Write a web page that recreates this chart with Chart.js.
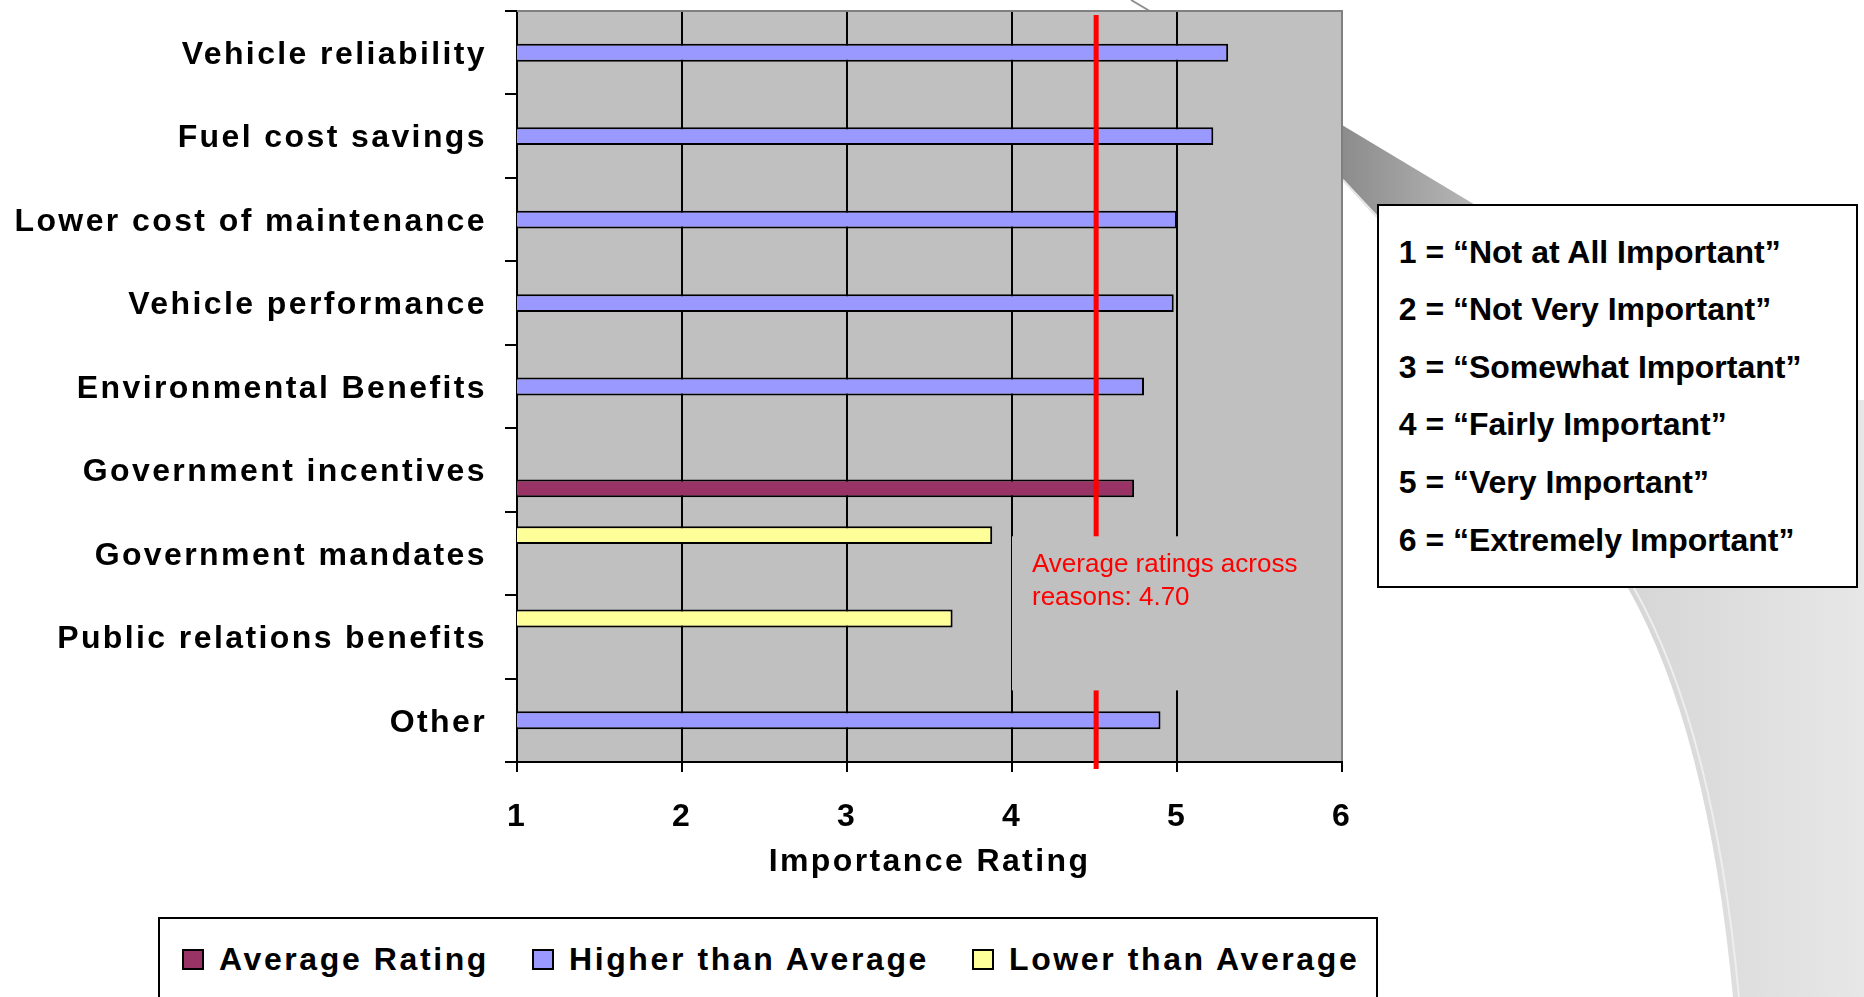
<!DOCTYPE html>
<html>
<head>
<meta charset="utf-8">
<script src="https://cdn.jsdelivr.net/npm/chart.js@4.4.1/dist/chart.umd.min.js"></script>
<style>
  html, body { margin: 0; padding: 0; background: #fff; width: 1864px; height: 997px; overflow: hidden; }
  #wrap { position: absolute; left: 0; top: 0; width: 1864px; height: 997px; }
  #key { position: absolute; left: 1377px; top: 204px; width: 481px; height: 384px; box-sizing: border-box;
         border: 2px solid #000; background: #fff; padding: 17.6px 0 0 19.7px;
         font: bold 32px "Liberation Sans", Arial, sans-serif; color: #000; line-height: 57.6px; white-space: nowrap; }
  #legendFrame { position: absolute; left: 158px; top: 917px; width: 1220px; height: 120px; box-sizing: border-box;
                 border: 2px solid #000; background: #fff; }
  .lgMark { position: absolute; top: 949px; width: 22px; height: 21px; box-sizing: border-box; border: 2px solid #000; }
  .lgText { position: absolute; top: 941px; line-height: 38px; font: bold 32px "Liberation Sans", Arial, sans-serif;
            letter-spacing: 2.6px; color: #000; white-space: nowrap; }
</style>
</head>
<body>
<div id="wrap"><canvas id="c"></canvas></div>
<div id="key"></div>
<div id="legendFrame"></div>
<script>
// ---------------- DATA ----------------
const categories = [
  'Vehicle reliability',
  'Fuel cost savings',
  'Lower cost of maintenance',
  'Vehicle performance',
  'Environmental Benefits',
  'Government incentives',
  'Government mandates',
  'Public relations benefits',
  'Other'
];
const averageRating     = [null, null, null, null, null, 4.74, null, null, null];
const higherThanAverage = [5.31, 5.22, 5.00, 4.98, 4.80, null, null, null, 4.90];
const lowerThanAverage  = [null, null, null, null, null, null, 3.88, 3.64, null];
const xTickValues = [1, 2, 3, 4, 5, 6];
const averageLineValue = 4.51;
const annotationLines = ['Average ratings across', 'reasons: 4.70'];
const axisTitle = 'Importance Rating';
const keyLines = [
  '1 = \u201cNot at All Important\u201d',
  '2 = \u201cNot Very Important\u201d',
  '3 = \u201cSomewhat Important\u201d',
  '4 = \u201cFairly Important\u201d',
  '5 = \u201cVery Important\u201d',
  '6 = \u201cExtremely Important\u201d'
];
const seriesNames = ['Average Rating', 'Higher than Average', 'Lower than Average'];
const seriesColors = ['#993366', '#9999FF', '#FFFF99'];

// ---------------- KEY + LEGEND (HTML) ----------------
document.getElementById('key').innerHTML = keyLines.map(t => '<div>' + t + '</div>').join('');
const legendLefts = [182, 532, 972];
seriesNames.forEach((name, i) => {
  const m = document.createElement('div');
  m.className = 'lgMark';
  m.style.left = legendLefts[i] + 'px';
  m.style.background = seriesColors[i];
  document.body.appendChild(m);
  const t = document.createElement('div');
  t.className = 'lgText';
  t.style.left = (legendLefts[i] + 37) + 'px';
  t.textContent = name;
  document.body.appendChild(t);
});

// ---------------- PLUGINS ----------------
const FONT = '"Liberation Sans", Arial, sans-serif';
const decor = {
  id: 'decor',
  beforeDraw(chart) {
    const ctx = chart.ctx, ca = chart.chartArea;
    ctx.save();
    ctx.letterSpacing = '0px';
    // background curved panel (slide decoration)
    const g = ctx.createLinearGradient(1630, 0, 1864, 0);
    g.addColorStop(0, '#d6d6d6');
    g.addColorStop(1, '#e7e7e7');
    ctx.fillStyle = g;
    ctx.beginPath();
    ctx.moveTo(1560, 400);
    ctx.quadraticCurveTo(1600, 500, 1628, 588);
    ctx.quadraticCurveTo(1708, 730, 1733, 997);
    ctx.lineTo(1864, 997);
    ctx.lineTo(1864, 400);
    ctx.closePath();
    ctx.fill();
    ctx.strokeStyle = '#eeeeee';
    ctx.lineWidth = 2;
    ctx.beginPath();
    ctx.moveTo(1634, 588);
    ctx.quadraticCurveTo(1714, 730, 1739, 997);
    ctx.stroke();
    // callout wedge
    ctx.strokeStyle = '#909090';
    ctx.lineWidth = 2;
    ctx.beginPath();
    ctx.moveTo(1131, 0);
    ctx.lineTo(ca.right, 125);
    ctx.stroke();
    const wg = ctx.createLinearGradient(ca.right, 0, 1480, 0);
    wg.addColorStop(0, '#8c8c8c');
    wg.addColorStop(1, '#b8b8b8');
    ctx.fillStyle = wg;
    ctx.beginPath();
    ctx.moveTo(ca.right, 125);
    ctx.lineTo(1492, 215);
    ctx.lineTo(1377, 215);
    ctx.lineTo(ca.right, 178);
    ctx.closePath();
    ctx.fill();
    ctx.strokeStyle = '#e4e4e4';
    ctx.lineWidth = 2;
    ctx.beginPath();
    ctx.moveTo(ca.right + 1, 180);
    ctx.lineTo(1377, 217);
    ctx.stroke();
    // plot area
    ctx.fillStyle = '#c0c0c0';
    ctx.fillRect(ca.left, ca.top, ca.right - ca.left, ca.bottom - ca.top);
    ctx.restore();
    chart.ctx.letterSpacing = '2.4px';
  },
  beforeDatasetsDraw(chart) {
    const ctx = chart.ctx, ca = chart.chartArea;
    ctx.save();
    ctx.strokeStyle = '#808080';
    ctx.lineWidth = 2;
    ctx.beginPath();
    ctx.moveTo(ca.left, ca.top);
    ctx.lineTo(ca.right + 1, ca.top);
    ctx.stroke();
    ctx.restore();
  },
  afterDatasetsDraw(chart) {
    const ctx = chart.ctx, ca = chart.chartArea;
    const xs = chart.scales.x, ys = chart.scales.y;
    ctx.save();
    ctx.letterSpacing = '0px';
    // average line
    const ax = xs.getPixelForValue(averageLineValue);
    ctx.strokeStyle = '#ff0000';
    ctx.lineWidth = 5;
    ctx.beginPath();
    ctx.moveTo(ax, ca.top + 4);
    ctx.lineTo(ax, ca.bottom + 7);
    ctx.stroke();
    // annotation box
    const bx = Math.round(xs.getPixelForValue(4));
    const by0 = ys.getPixelForValue(5.795);
    const by1 = ys.getPixelForValue(7.642);
    ctx.fillStyle = '#c0c0c0';
    ctx.fillRect(bx, by0, ca.right - 1 - bx, by1 - by0);
    ctx.fillStyle = '#ff0000';
    ctx.font = '26px ' + FONT;
    ctx.textAlign = 'left';
    ctx.textBaseline = 'alphabetic';
    annotationLines.forEach((s, i) => ctx.fillText(s, bx + 20, by0 + 36 + i * 32.3));
    ctx.restore();
  }
};

function zeroPad(s) { s.paddingTop = 0; s.paddingBottom = 0; s.paddingLeft = 0; s.paddingRight = 0; }

// ---------------- CHART ----------------
const chart = new Chart(document.getElementById('c'), {
  type: 'bar',
  data: {
    labels: categories,
    datasets: [
      { label: seriesNames[2], data: lowerThanAverage, backgroundColor: seriesColors[2] },
      { label: seriesNames[1], data: higherThanAverage, backgroundColor: seriesColors[1] },
      { label: seriesNames[0], data: averageRating, backgroundColor: seriesColors[0] }
    ].map(d => Object.assign(d, { borderColor: '#000', borderWidth: 2, borderSkipped: false,
                                 categoryPercentage: 0.66, barPercentage: 0.97 }))
  },
  options: {
    indexAxis: 'y',
    responsive: true,
    maintainAspectRatio: false,
    animation: false,
    events: [],
    layout: { padding: { top: 11, right: 522, bottom: 0, left: 0 } },
    plugins: { legend: { display: false }, tooltip: { enabled: false } },
    scales: {
      x: {
        type: 'linear',
        min: xTickValues[0],
        max: xTickValues[xTickValues.length - 1],
        afterBuildTicks: s => { s.ticks = xTickValues.map(v => ({ value: v })); },
        afterFit: s => { s.height = 235; zeroPad(s); },
        grid: {
          color: c => (c.tick && c.tick.value === xTickValues[xTickValues.length - 1]) ? '#808080' : '#000',
          tickColor: '#000',
          lineWidth: 2,
          tickLength: 10
        },
        border: { color: '#000', width: 2 },
        ticks: { color: '#000', padding: 26, font: { family: FONT, size: 32, weight: 'bold' } },
        title: {
          display: true, text: axisTitle, color: '#000',
          font: { family: FONT, size: 32, weight: 'bold' },
          padding: { top: 0, bottom: 116 }
        }
      },
      y: {
        type: 'category',
        afterFit: s => { s.width = 517; zeroPad(s); },
        grid: { drawOnChartArea: false, offset: true, color: '#000', lineWidth: 2, tickLength: 12 },
        border: { color: '#000', width: 2 },
        ticks: { color: '#000', padding: 18, labelOffset: 2.5, autoSkip: false,
                 font: { family: FONT, size: 32, weight: 'bold' } }
      }
    }
  },
  plugins: [decor]
});
</script>
</body>
</html>
